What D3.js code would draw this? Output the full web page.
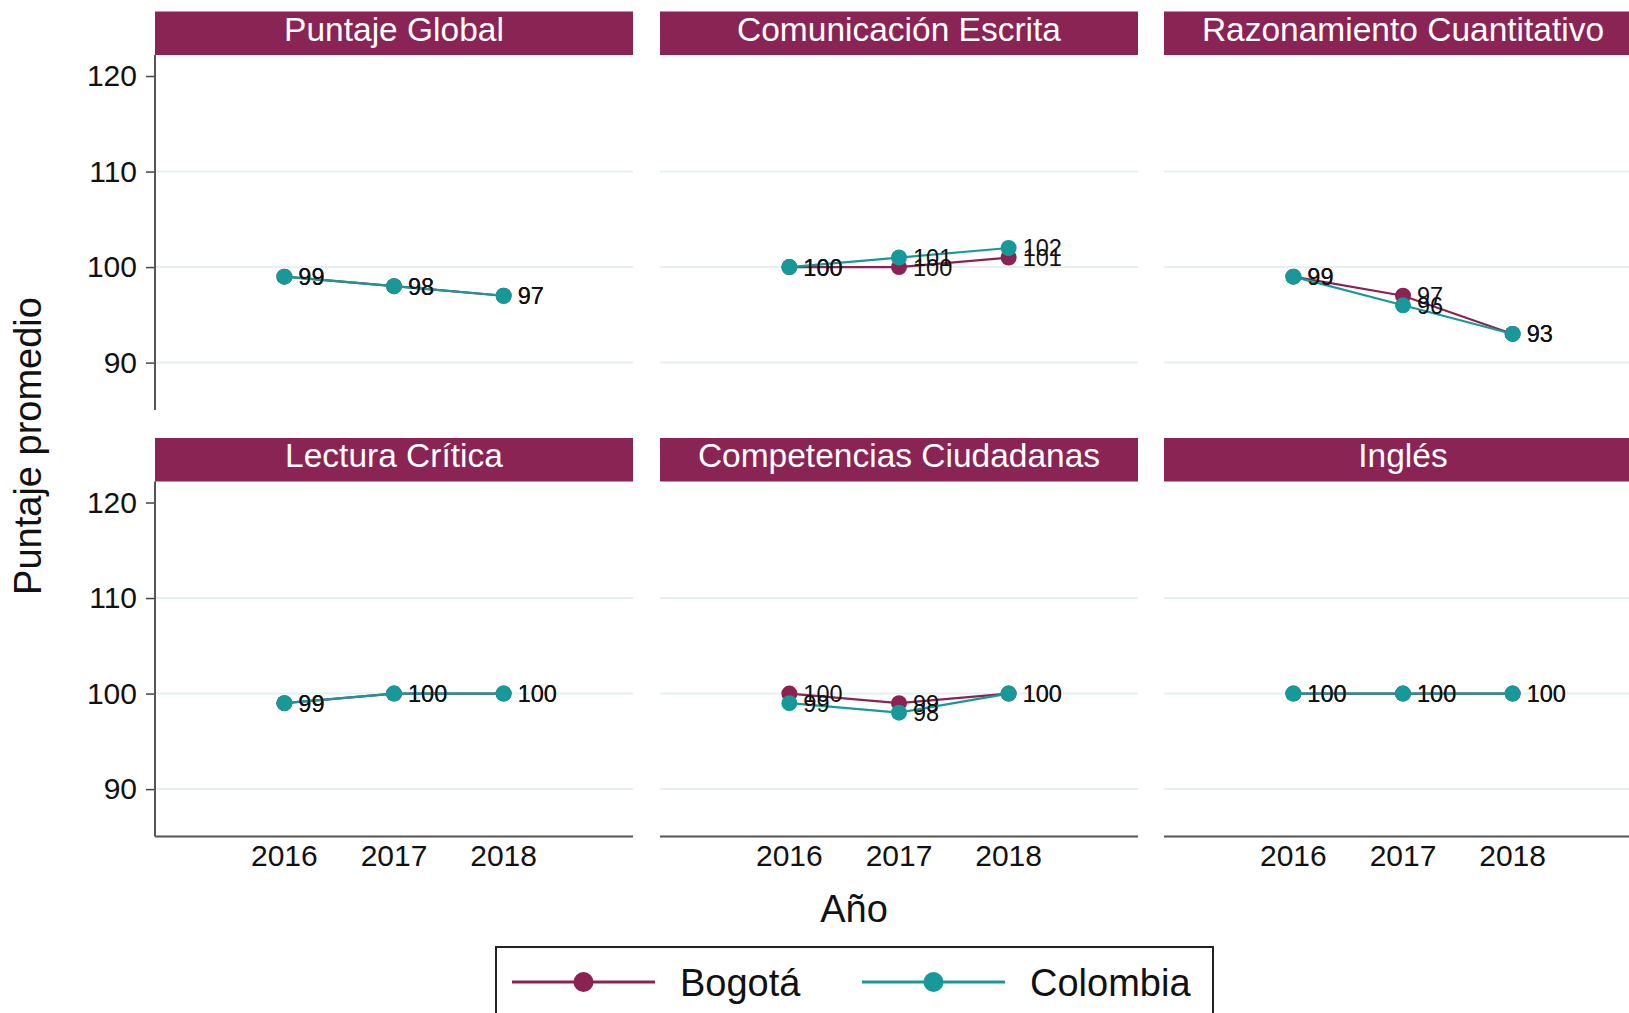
<!DOCTYPE html>
<html>
<head>
<meta charset="utf-8">
<script src="https://cdn.jsdelivr.net/npm/d3@7"></script>
<style>
  html, body { margin: 0; padding: 0; background: #fff; overflow: hidden; }
  svg { display: block; font-family: "Liberation Sans", Arial, Helvetica, sans-serif; }
</style>
</head>
<body>
<svg id="chart" width="1629" height="1013"></svg>
<script>
const years = [2016, 2017, 2018];
const panels = [
  "Puntaje Global", "Comunicación Escrita", "Razonamiento Cuantitativo",
  "Lectura Crítica", "Competencias Ciudadanas", "Inglés"
];
const seriesNames = ["Bogotá", "Colombia"];
const bogota = [
  [99, 98, 97], [100, 100, 101], [99, 97, 93],
  [99, 100, 100], [100, 99, 100], [100, 100, 100]
];
const colombia = [
  [99, 98, 97], [100, 101, 102], [99, 96, 93],
  [99, 100, 100], [99, 98, 100], [100, 100, 100]
];
const yTicks = [90, 100, 110, 120];
const gridTicks = [90, 100, 110];

const colors = { "Bogotá": "#8b2252", "Colombia": "#17999a" };
const stripFill = "#8a2454";

const svg = d3.select("#chart");

const colX = [155, 660, 1164];
const panelW = 478;
const rowTop = [11.5, 438];
const stripH = 43.5;
const plotH = 355;

const x = d3.scaleLinear().domain([2014.82, 2019.18]).range([0, panelW]);
const y = d3.scaleLinear().domain([85.04, 122.2]).range([plotH, 0]);

const line = d3.line().x(d => x(d.year)).y(d => y(d.value));

panels.forEach((title, i) => {
  const col = i % 3, row = Math.floor(i / 3);
  const g = svg.append("g")
    .attr("transform", `translate(${colX[col]},${rowTop[row]})`);

  // strip
  g.append("rect")
    .attr("x", 0).attr("y", 0)
    .attr("width", panelW).attr("height", stripH)
    .attr("fill", stripFill);
  g.append("text")
    .attr("x", panelW / 2).attr("y", 29)
    .attr("text-anchor", "middle")
    .attr("fill", "#fff")
    .attr("font-size", 33.5)
    .text(title);

  const p = g.append("g").attr("transform", `translate(0,${stripH})`);

  // grid
  p.selectAll("line.grid")
    .data(gridTicks)
    .join("line")
    .attr("x1", 0).attr("x2", panelW)
    .attr("y1", d => y(d)).attr("y2", d => y(d))
    .attr("stroke", "#e6f0f1")
    .attr("stroke-width", 2);

  // y axis on first column
  if (col === 0) {
    const ya = p.append("g")
      .call(d3.axisLeft(y).tickValues(yTicks).tickSize(9).tickPadding(9));
    ya.select(".domain").remove();
    ya.selectAll(".tick line").attr("stroke", "#444").attr("stroke-width", 1.5);
    ya.selectAll(".tick text")
      .attr("font-size", 30)
      .attr("font-family", "Liberation Sans, Arial, sans-serif")
      .attr("fill", "#111");
    p.append("line")
      .attr("x1", 0).attr("x2", 0).attr("y1", 0).attr("y2", plotH)
      .attr("stroke", "#555").attr("stroke-width", 2);
  }

  // x axis on bottom row
  if (row === 1) {
    p.append("line")
      .attr("x1", 0).attr("x2", panelW).attr("y1", plotH).attr("y2", plotH)
      .attr("stroke", "#555").attr("stroke-width", 2);
    p.selectAll("text.xt")
      .data(years)
      .join("text")
      .attr("x", d => x(d))
      .attr("y", plotH + 29)
      .attr("text-anchor", "middle")
      .attr("font-size", 30)
      .attr("fill", "#111")
      .text(d => d);
  }

  // series: Bogotá first, Colombia on top
  [bogota[i], colombia[i]].forEach((vals, s) => {
    const name = seriesNames[s];
    const pts = years.map((yr, k) => ({ year: yr, value: vals[k] }));
    p.append("path")
      .datum(pts)
      .attr("d", line)
      .attr("fill", "none")
      .attr("stroke", colors[name])
      .attr("stroke-width", 2.2);
    p.selectAll(null)
      .data(pts)
      .join("circle")
      .attr("cx", d => x(d.year))
      .attr("cy", d => y(d.value))
      .attr("r", 8)
      .attr("fill", colors[name]);
    p.selectAll(null)
      .data(pts)
      .join("text")
      .attr("x", d => x(d.year) + 14)
      .attr("y", d => y(d.value))
      .attr("dy", "0.36em")
      .attr("font-size", 23.5)
      .attr("fill", "#111")
      .text(d => d.value);
  });
});

// axis titles
svg.append("text")
  .attr("transform", "translate(41,446) rotate(-90)")
  .attr("text-anchor", "middle")
  .attr("font-size", 38)
  .attr("fill", "#111")
  .text("Puntaje promedio");

svg.append("text")
  .attr("x", 854).attr("y", 922)
  .attr("text-anchor", "middle")
  .attr("font-size", 38)
  .attr("fill", "#111")
  .text("Año");

// legend
const legend = svg.append("g");
legend.append("rect")
  .attr("x", 496).attr("y", 947)
  .attr("width", 717).attr("height", 90)
  .attr("fill", "#fff")
  .attr("stroke", "#222")
  .attr("stroke-width", 2);

const legendItems = [
  { name: seriesNames[0], x0: 512 },
  { name: seriesNames[1], x0: 862 }
];
legendItems.forEach(it => {
  legend.append("line")
    .attr("x1", it.x0).attr("x2", it.x0 + 143)
    .attr("y1", 982).attr("y2", 982)
    .attr("stroke", colors[it.name]).attr("stroke-width", 3);
  legend.append("circle")
    .attr("cx", it.x0 + 71.5).attr("cy", 982).attr("r", 10)
    .attr("fill", colors[it.name]);
  legend.append("text")
    .attr("x", it.x0 + 168).attr("y", 982)
    .attr("dy", "0.36em")
    .attr("font-size", 38)
    .attr("fill", "#111")
    .text(it.name);
});
</script>
</body>
</html>
